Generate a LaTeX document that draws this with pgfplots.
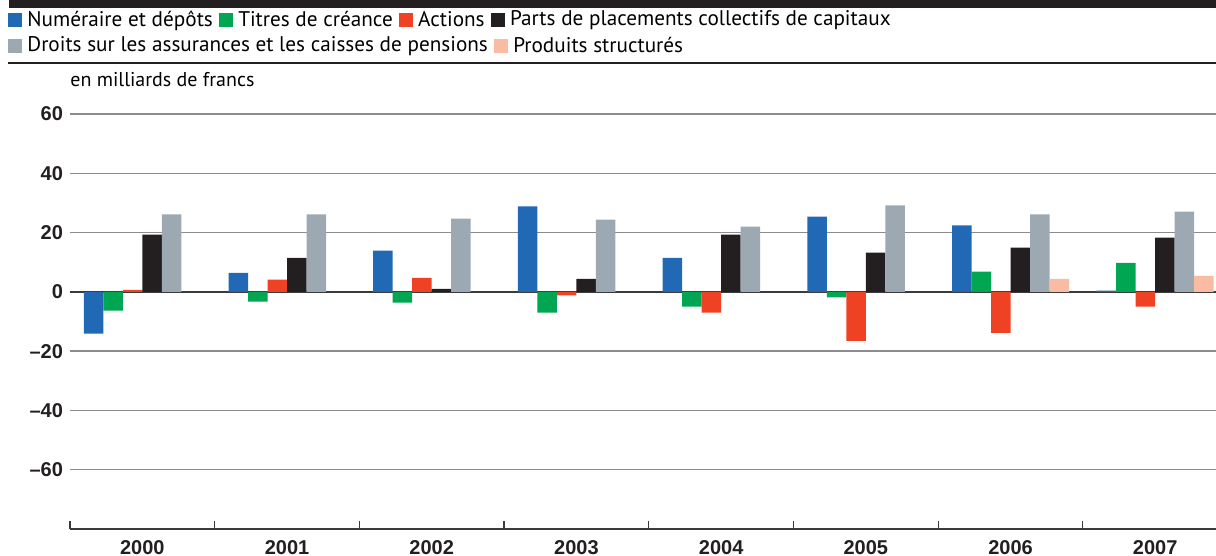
\documentclass[border=0pt]{standalone}
\usepackage{pgfplots}
\pgfplotsset{compat=1.18}
\usepackage{fontspec}
\setmainfont{PT Sans}
\newfontfamily\tickfont{Liberation Sans}
\definecolor{cN}{HTML}{2169B5}
\definecolor{cT}{HTML}{00A651}
\definecolor{cA}{HTML}{EF4123}
\definecolor{cP}{HTML}{231F20}
\definecolor{cD}{HTML}{9DA9B2}
\definecolor{cS}{HTML}{F9BBA2}
\definecolor{gridc}{HTML}{8C8C8C}
\definecolor{zeroc}{HTML}{3A3A3A}
\newcommand\legfont{\fontsize{10.6}{12}\selectfont}
\newcommand\unitfont{\fontsize{10}{12}\selectfont}
\pgfplotsset{
  mylegend/.style={
    legend image code/.code={\fill[##1] (0pt,-3.6pt) rectangle (7.2pt,3.6pt);},
    legend style={draw=none, fill=none, inner sep=0pt, outer sep=0pt,
      font=\legfont, anchor=west,
      nodes={inner sep=0pt},
      /tikz/every odd column/.append style={column sep=2.5pt},
      /tikz/every even column/.append style={column sep=3pt}},
    legend columns=-1,
  }
}
\begin{document}
\begin{tikzpicture}[x=1pt,y=1pt]
\useasboundingbox (0,0) rectangle (608,278);
\fill[cP] (4.5,274) rectangle (608,278);
\draw[line width=0.6pt, cP] (4,246.5) -- (608,246.5);
\node[anchor=west, font=\unitfont, inner sep=0pt] at (35,238) {en milliards de francs};
\begin{axis}[
  at={(35pt,13.5pt)}, anchor=south west, scale only axis,
  width=573pt, height=214.9pt,
  xmin=-0.5, xmax=7.42, ymin=-80, ymax=65,
  ybar=0pt, bar width=9.75pt,
  axis x line*=bottom, axis y line*=left,
  x axis line style={-, color=zeroc, line width=0.6pt},
  y axis line style={draw=none},
  ytick={-60,-40,-20,20,40,60},
  yticklabels={–60,–40,–20,20,40,60},
  extra y ticks={0}, extra y tick labels={0},
  extra y tick style={grid style={line width=1.1pt, color=zeroc}},
  ymajorgrids, grid style={line width=0.7pt, color=gridc},
  ytick style={draw=none},
  xtick={0,...,7}, xticklabels={2000,2001,2002,2003,2004,2005,2006,2007},
  major x tick style={draw=none},
  minor xtick={-0.5,0.5,...,6.5},
  tick align=inside, minor tick length=4pt,
  minor x tick style={color=zeroc, line width=0.6pt},
  ticklabel style={font=\tickfont\bfseries\fontsize{10}{12}\selectfont, text=cP},
  xticklabel style={yshift=-2pt},
  mylegend,
  legend style={at={(axis description cs:-0.0541,1.1843)}},
  clip=false,
]
\addplot[fill=cN, draw=none] coordinates {(0,-14.1) (1,6.4) (2,13.9) (3,28.8) (4,11.5) (5,25.4) (6,22.4) (7,0.4)};
\addlegendentry{Numéraire et dépôts}
\addplot[fill=cT, draw=none] coordinates {(0,-6.3) (1,-3.3) (2,-3.6) (3,-7.0) (4,-5.0) (5,-1.9) (6,6.8) (7,9.8)};
\addlegendentry{Titres de créance}
\addplot[fill=cA, draw=none] coordinates {(0,0.7) (1,4.1) (2,4.7) (3,-1.2) (4,-7.0) (5,-16.5) (6,-13.8) (7,-5.0)};
\addlegendentry{Actions}
\addplot[fill=cP, draw=none] coordinates {(0,19.3) (1,11.5) (2,1.0) (3,4.4) (4,19.3) (5,13.2) (6,14.9) (7,18.3)};
\addlegendentry{Parts de placements collectifs de capitaux}
\addplot[fill=cD, draw=none] coordinates {(0,26.1) (1,26.1) (2,24.7) (3,24.4) (4,22.0) (5,29.2) (6,26.1) (7,27.1)};
\addplot[fill=cS, draw=none] coordinates {(6,4.4) (7,5.4)};
\end{axis}
\begin{axis}[
  at={(35pt,13.5pt)}, anchor=south west, scale only axis,
  width=573pt, height=214.9pt,
  xmin=0, xmax=1, ymin=0, ymax=1, hide axis,
  mylegend,
  legend style={at={(axis description cs:-0.0541,1.1238)}},
]
\addlegendimage{fill=cD, draw=none}
\addlegendentry{Droits sur les assurances et les caisses de pensions}
\addlegendimage{fill=cS, draw=none}
\addlegendentry{Produits structurés}
\end{axis}
\end{tikzpicture}
\end{document}
